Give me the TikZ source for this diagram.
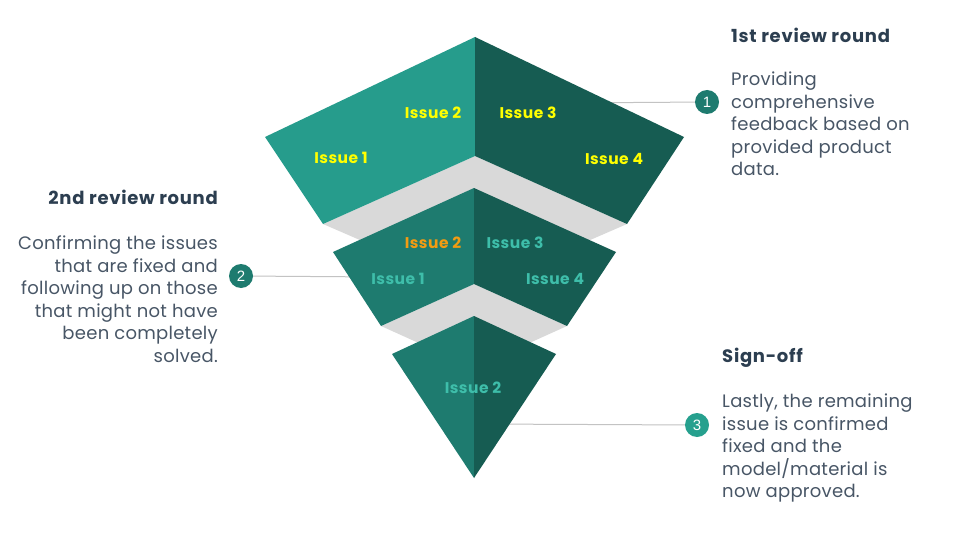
\documentclass[tikz,border=0pt]{standalone}
\usepackage{fontspec}
\newfontfamily\pop{Poppins}
\newfontfamily\popw[LetterSpace=4]{Poppins}
\newfontfamily\popi[LetterSpace=3]{Poppins}
\newfontfamily\popb[LetterSpace=1.5]{Poppins}
\newfontfamily\numfont{Liberation Sans}
\definecolor{tealA}{RGB}{38,156,140}
\definecolor{tealB}{RGB}{30,123,111}
\definecolor{tealD}{RGB}{22,92,82}
\definecolor{bandgray}{RGB}{217,217,217}
\definecolor{issueY}{RGB}{255,255,0}
\definecolor{issueO}{RGB}{243,156,18}
\definecolor{issueT}{RGB}{62,190,170}
\definecolor{headC}{RGB}{44,62,80}
\definecolor{bodyC}{RGB}{72,86,102}
\definecolor{lineC}{RGB}{195,195,195}
\definecolor{badgeL}{RGB}{38,160,142}
\tikzset{
  badge/.style={circle,minimum size=24pt,inner sep=0pt,text=white,font=\numfont\fontsize{15}{15}\selectfont},
  conn/.style={draw=lineC,line width=1pt},
  issue/.style={font=\popi\bfseries\fontsize{15.5}{15}\selectfont,inner sep=0pt},
  head/.style={font=\popw\bfseries\fontsize{18}{20}\selectfont,text=headC,inner sep=0pt},
  body/.style={font=\popb\fontsize{18}{22.5}\selectfont,text=bodyC,inner sep=0pt},
}
\begin{document}
\begin{tikzpicture}[x=1pt,y=-1pt]
\useasboundingbox[fill=white] (0,0) rectangle (960,540);
% badges
\node[badge,fill=tealB] (b1) at (707,102) {1};
\node[badge,fill=tealB] (b2) at (241,276) {2};
\node[badge,fill=badgeL] (b3) at (697,425) {3};
\coordinate (e1) at (560,103);
\coordinate (e2) at (380,277);
\coordinate (e3) at (480,424);
\draw[conn] (b1) -- (e1);
\draw[conn] (b2) -- (e2);
\draw[conn] (b3) -- (e3);
% gray bands
\fill[bandgray] (323,224) -- (475,156) -- (627,224) -- (475,290) -- cycle;
\fill[bandgray] (381,326) -- (474,284) -- (567,326) -- (474,368) -- cycle;
% top layer
\fill[tealA] (475,37) -- (265,137) -- (323,224) -- (475,156) -- cycle;
\fill[tealD] (475,37) -- (684,137) -- (627,224) -- (475,156) -- cycle;
% middle layer
\fill[tealB] (474,188) -- (333,252) -- (381,326) -- (474,284) -- cycle;
\fill[tealD] (474,188) -- (616,252) -- (567,326) -- (474,284) -- cycle;
% bottom layer
\fill[tealB] (474,316) -- (392,354) -- (474,478) -- cycle;
\fill[tealD] (474,316) -- (556,354) -- (474,478) -- cycle;
% issue labels
\node[issue,text=issueY] (t1) at (341,158) {Issue 1};
\node[issue,text=issueY] (t2) at (433,113) {Issue 2};
\node[issue,text=issueY] (t3) at (528,113) {Issue 3};
\node[issue,text=issueY] (t4) at (614,159) {Issue 4};
\node[issue,text=issueO] (m2) at (433,243) {Issue 2};
\node[issue,text=issueT] (m3) at (515,243) {Issue 3};
\node[issue,text=issueT] (m1) at (398,279) {Issue 1};
\node[issue,text=issueT] (m4) at (555,279) {Issue 4};
\node[issue,text=issueT] (s2) at (473,388) {Issue 2};
% text blocks
\node[head,anchor=north west] (h1) at (731,28) {1st review round};
\node[body,anchor=north west,align=left] (d1) at (731,72) {Providing\\comprehensive\\feedback based on\\provided product\\data.};
\node[head,anchor=north east] (h2) at (218,190) {2nd review round};
\node[body,anchor=north east,align=right] (d2) at (218,236) {Confirming the issues\\that are fixed and\\following up on those\\that might not have\\been completely\\solved.};
\node[head,anchor=north west] (h3) at (722,348) {Sign-off};
\node[body,anchor=north west,align=left] (d3) at (722,394) {Lastly, the remaining\\issue is confirmed\\fixed and the\\model/material is\\now approved.};
\end{tikzpicture}
\end{document}
